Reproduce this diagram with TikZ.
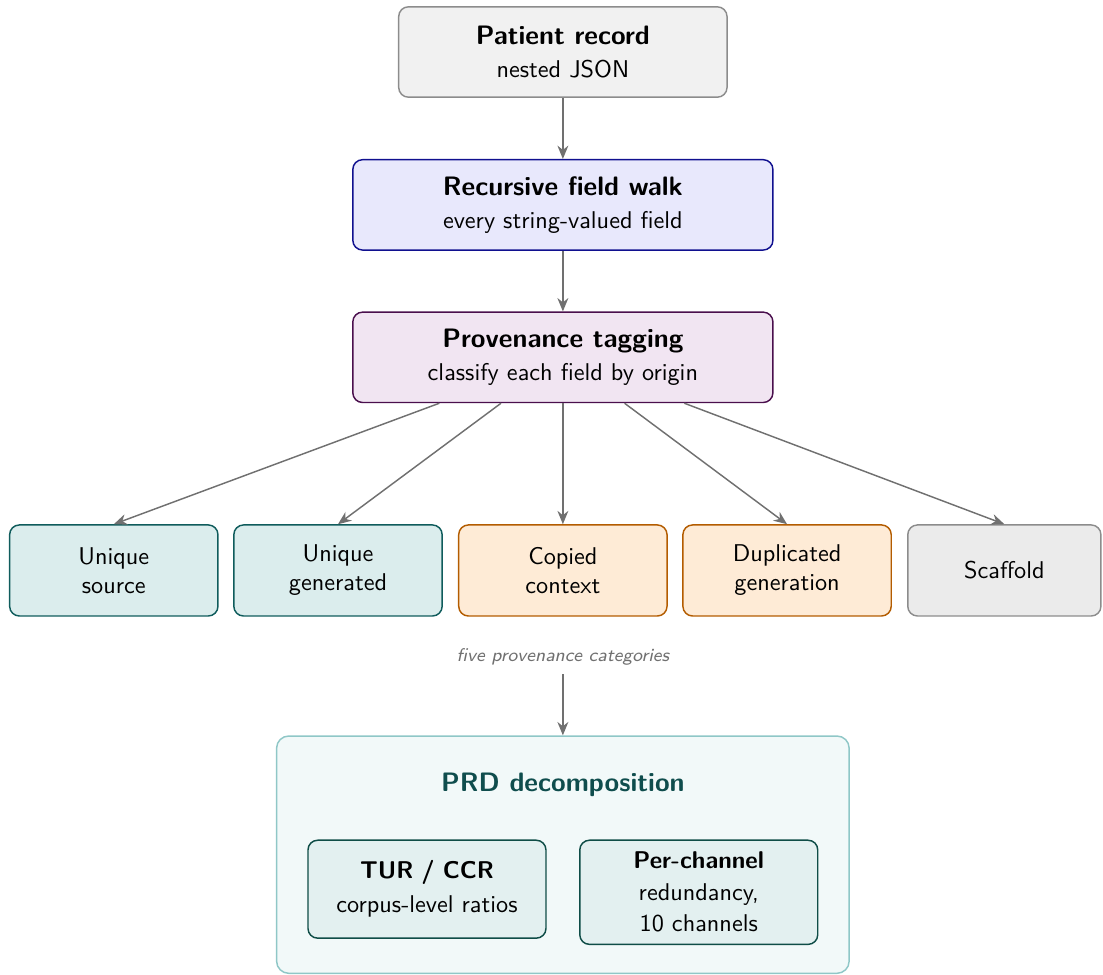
\documentclass[tikz,border=0pt]{standalone}
\usepackage{tikz}
\usetikzlibrary{arrows.meta}
\definecolor{recline}{HTML}{8C8C8C}
\definecolor{recfill}{HTML}{F1F1F1}
\definecolor{walkline}{HTML}{10108F}
\definecolor{walkfill}{HTML}{E8E8FC}
\definecolor{provline}{HTML}{4A0F4D}
\definecolor{provfill}{HTML}{F1E5F2}
\definecolor{uniqline}{HTML}{0F5C5C}
\definecolor{uniqfill}{HTML}{DBEDED}
\definecolor{copyline}{HTML}{B35C00}
\definecolor{copyfill}{HTML}{FEEBD6}
\definecolor{scafline}{HTML}{8C8C8C}
\definecolor{scaffill}{HTML}{EBEBEB}
\definecolor{prdline}{HTML}{8FC7C7}
\definecolor{prdfill}{HTML}{F2F9F9}
\definecolor{innline}{HTML}{0F4D47}
\definecolor{innfill}{HTML}{E3F0F0}
\definecolor{prdtext}{HTML}{0F4D4D}
\definecolor{arrgray}{HTML}{707070}
\newcommand{\ttl}{\fontsize{11}{13.5}\selectfont\bfseries}

\begin{document}
\begin{tikzpicture}[font=\sffamily,
  box/.style={draw, rounded corners=4pt, align=center, line width=0.6pt, minimum height=1.31cm},
  cat/.style={box, text width=2.7cm, minimum width=3.02cm, minimum height=1.32cm},
  inn/.style={box, draw=innline, fill=innfill, text width=3.2cm, minimum width=3.45cm, minimum height=1.42cm, anchor=north},
  arr/.style={draw=arrgray, line width=0.6pt, -{Stealth[length=5.5pt,width=4.5pt]}}]
\useasboundingbox (-8.16,0) rectangle (7.83,-14.12);
% pipeline
\node[box, draw=recline, fill=recfill, minimum width=4.76cm] (rec) at (0,-0.754)
  {{\ttl Patient record}\\[1.5pt] nested JSON};
\node[box, draw=walkline, fill=walkfill, minimum width=6.09cm] (walk) at (0,-2.97)
  {{\ttl Recursive field walk}\\[1.5pt] every string-valued field};
\node[box, draw=provline, fill=provfill, minimum width=6.09cm] (prov) at (0,-5.18)
  {{\ttl Provenance tagging}\\[1.5pt] classify each field by origin};
\draw[arr] (rec) -- (walk);
\draw[arr] (walk) -- (prov);
% categories
\node[cat, draw=uniqline, fill=uniqfill] (us) at (-6.51,-8.27) {Unique\\source};
\node[cat, draw=uniqline, fill=uniqfill] (ug) at (-3.26,-8.27) {Unique\\generated};
\node[cat, draw=copyline, fill=copyfill] (cc) at (0,-8.27) {Copied\\context};
\node[cat, draw=copyline, fill=copyfill] (dg) at (3.25,-8.27) {Duplicated\\generation};
\node[cat, draw=scafline, fill=scaffill, text width=2.5cm, minimum width=2.8cm] (sc) at (6.40,-8.27) {Scaffold};
\foreach \n in {us,ug,cc,dg,sc}
\draw[arr] (prov) -- (\n.north);
\node[text=arrgray, font=\sffamily\fontsize{7.6}{9}\selectfont\itshape] (lbl) at (0,-9.53) {five provenance categories};
% decomposition
\node[draw=prdline, fill=prdfill, rounded corners=5pt, line width=0.6pt, minimum width=8.3cm, minimum height=3.44cm] (prd) at (0,-12.39) {};
\draw[arr] (lbl) -- (prd);
\node[text=prdtext, font=\sffamily\ttl] (prdt) at (0,-11.38) {PRD decomposition};
\node[inn] (tur) at (-1.97,-12.17) {{\bfseries TUR / CCR}\\[2pt] corpus-level ratios};
\node[inn, minimum height=1.51cm] (pch) at (1.97,-12.17) {{\bfseries Per-channel}\\[1pt] redundancy,\\[1pt] 10 channels};
\end{tikzpicture}
\end{document}
